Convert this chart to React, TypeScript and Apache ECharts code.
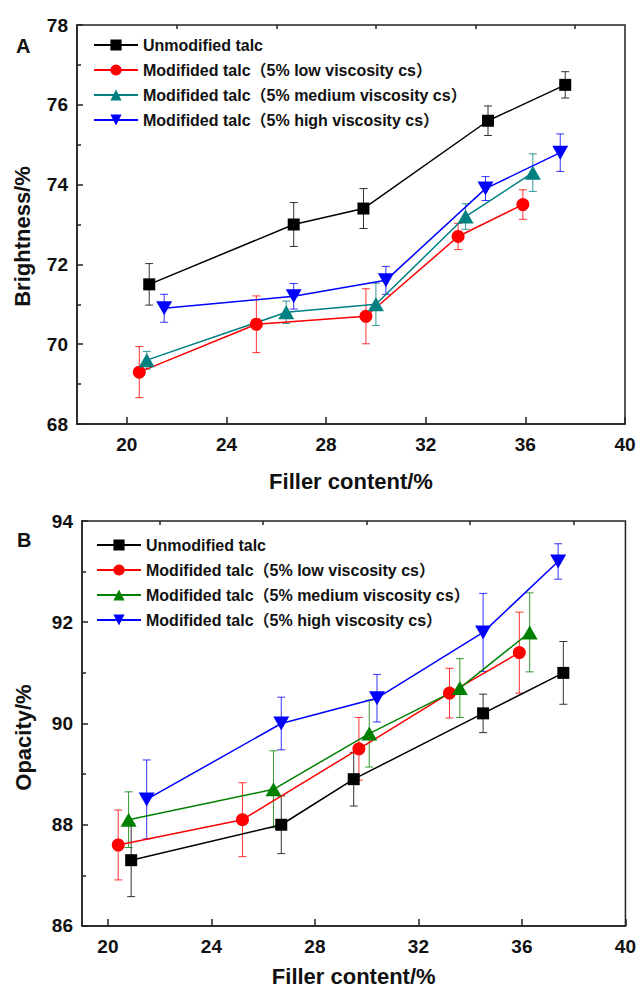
import React, { useEffect, useRef } from "react";
import * as echarts from "echarts";

// ---------- Data ----------
const seriesLabels = [
  "Unmodified talc",
  "Modifided talc（5% low viscosity cs）",
  "Modifided talc（5% medium viscosity cs）",
  "Modifided talc（5% high viscosity cs）",
];

// Panel A: Brightness/%
const a_unmod_x = [20.9, 26.7, 29.5, 34.5, 37.6];
const a_unmod_y = [71.5, 73.0, 73.4, 75.6, 76.5];
const a_unmod_err = [0.52, 0.55, 0.5, 0.37, 0.33];

const a_low_x = [20.5, 25.2, 29.6, 33.3, 35.9];
const a_low_y = [69.3, 70.5, 70.7, 72.7, 73.5];
const a_low_err = [0.64, 0.71, 0.69, 0.33, 0.37];

const a_med_x = [20.8, 26.4, 30.0, 33.6, 36.3];
const a_med_y = [69.6, 70.8, 71.0, 73.2, 74.3];
const a_med_err = [0.22, 0.28, 0.53, 0.32, 0.47];

const a_high_x = [21.5, 26.7, 30.4, 34.4, 37.4];
const a_high_y = [70.9, 71.2, 71.6, 73.9, 74.8];
const a_high_err = [0.35, 0.32, 0.35, 0.3, 0.47];

// Panel B: Opacity/%
const b_unmod_x = [20.9, 26.7, 29.5, 34.5, 37.6];
const b_unmod_y = [87.3, 88.0, 88.9, 90.2, 91.0];
const b_unmod_err = [0.72, 0.57, 0.53, 0.38, 0.62];

const b_low_x = [20.4, 25.2, 29.7, 33.2, 35.9];
const b_low_y = [87.6, 88.1, 89.5, 90.6, 91.4];
const b_low_err = [0.69, 0.73, 0.62, 0.49, 0.8];

const b_med_x = [20.8, 26.4, 30.1, 33.6, 36.3];
const b_med_y = [88.1, 88.7, 89.8, 90.7, 91.8];
const b_med_err = [0.55, 0.76, 0.66, 0.58, 0.78];

const b_high_x = [21.5, 26.7, 30.4, 34.5, 37.4];
const b_high_y = [88.5, 90.0, 90.5, 91.8, 93.2];
const b_high_err = [0.78, 0.52, 0.47, 0.77, 0.35];

const xMajorTicks = [20, 24, 28, 32, 36, 40];
const xMinorTicks = [22, 26, 30, 34, 38];

// ---------- Styles ----------
const colorsA = ["#000000", "#ff0000", "#008080", "#0000ff"];
const colorsB = ["#000000", "#ff0000", "#008000", "#0000ff"];
const symbols = ["rect", "circle", "triangle", "triangle"];
const symbolSizes: any[] = [12, 13, [16, 14], [16, 14]];
const symbolRotates = [0, 0, 0, 180];
const FONT = "'Liberation Sans', Arial, 'Noto Sans CJK SC', sans-serif";

export default function App() {
  const ref = useRef<HTMLDivElement>(null);

  useEffect(() => {
    if (!ref.current) return;
    const chart = echarts.init(ref.current, null, { renderer: "svg" });

    const panels = [
      {
        prefix: "A",
        colors: colorsA,
        xs: [a_unmod_x, a_low_x, a_med_x, a_high_x],
        ys: [a_unmod_y, a_low_y, a_med_y, a_high_y],
        errs: [a_unmod_err, a_low_err, a_med_err, a_high_err],
      },
      {
        prefix: "B",
        colors: colorsB,
        xs: [b_unmod_x, b_low_x, b_med_x, b_high_x],
        ys: [b_unmod_y, b_low_y, b_med_y, b_high_y],
        errs: [b_unmod_err, b_low_err, b_med_err, b_high_err],
      },
    ];

    const axisLine = { show: true, lineStyle: { color: "#222", width: 1.5 } };
    const labelStyle = {
      fontFamily: FONT,
      fontWeight: "bold" as const,
      fontSize: 19,
      color: "#111",
    };
    const nameStyle = {
      fontFamily: FONT,
      fontWeight: "bold" as const,
      fontSize: 22,
      color: "#111",
    };

    const makeX = (gridIndex: number, min: number, gap: number) => [
      {
        type: "value",
        gridIndex,
        min,
        max: 40,
        name: "Filler content/%",
        nameLocation: "middle",
        nameGap: gap,
        nameTextStyle: nameStyle,
        axisLine,
        axisTick: {
          show: true,
          inside: true,
          length: 7,
          customValues: xMajorTicks,
          lineStyle: { color: "#222", width: 1.5 },
        },
        axisLabel: { ...labelStyle, margin: 11, customValues: xMajorTicks },
        splitLine: { show: false },
      },
      {
        type: "value",
        gridIndex,
        min,
        max: 40,
        axisLine: { show: false },
        axisTick: {
          show: true,
          inside: true,
          length: 4,
          customValues: xMinorTicks,
          lineStyle: { color: "#222", width: 1.5 },
        },
        axisLabel: { show: false },
        splitLine: { show: false },
      },
    ];

    const makeY = (
      gridIndex: number,
      min: number,
      max: number,
      name: string,
      gap: number,
      shift: number
    ) => ({
      type: "value",
      gridIndex,
      min,
      max,
      interval: 2,
      name,
      nameLocation: "middle",
      nameRotate: 90,
      nameGap: gap,
      nameTextStyle: { ...nameStyle, padding: [0, shift * 2, 0, 0] },
      axisLine,
      axisTick: {
        show: true,
        inside: true,
        length: 6,
        lineStyle: { color: "#222", width: 1.5 },
      },
      minorTick: {
        show: true,
        splitNumber: 2,
        length: 4,
        lineStyle: { color: "#222", width: 1.5 },
      },
      axisLabel: { ...labelStyle, margin: 9 },
      splitLine: { show: false },
    });

    const series: any[] = [];
    panels.forEach((p, pi) => {
      const xAxisIndex = pi * 2;
      const yAxisIndex = pi;
      for (let k = 0; k < 4; k++) {
        const color = p.colors[k];
        const data = p.xs[k].map((x, i) => [x, p.ys[k][i], p.errs[k][i]]);
        series.push({
          type: "custom",
          name: p.prefix + "err" + k,
          xAxisIndex,
          yAxisIndex,
          z: 1,
          silent: true,
          data,
          renderItem: (params: any, api: any) => {
            const x = api.value(0);
            const y = api.value(1);
            const e = api.value(2);
            const top = api.coord([x, y + e]);
            const bot = api.coord([x, y - e]);
            const hw = 4;
            const st = { stroke: color, lineWidth: 1, opacity: 0.8 };
            return {
              type: "group",
              children: [
                { type: "line", shape: { x1: top[0], y1: top[1], x2: bot[0], y2: bot[1] }, style: st },
                { type: "line", shape: { x1: top[0] - hw, y1: top[1], x2: top[0] + hw, y2: top[1] }, style: st },
                { type: "line", shape: { x1: bot[0] - hw, y1: bot[1], x2: bot[0] + hw, y2: bot[1] }, style: st },
              ],
            };
          },
        });
        series.push({
          type: "line",
          name: p.prefix + ": " + seriesLabels[k],
          xAxisIndex,
          yAxisIndex,
          z: 3,
          data: data.map((d) => [d[0], d[1]]),
          symbol: symbols[k],
          symbolSize: symbolSizes[k],
          symbolRotate: symbolRotates[k],
          showAllSymbol: true,
          itemStyle: { color },
          lineStyle: { color, width: 1.5 },
        });
      }
    });

    const makeLegend = (prefix: string, left: number, top: number) => ({
      orient: "vertical",
      left,
      top,
      padding: 0,
      itemWidth: 44,
      itemHeight: 14,
      itemGap: 9,
      data: seriesLabels.map((l) => prefix + ": " + l),
      formatter: (name: string) => name.slice(3),
      selectedMode: false,
      textStyle: {
        fontFamily: FONT,
        fontWeight: "bold",
        fontSize: 16,
        lineHeight: 16,
        color: "#111",
      },
    });

    chart.setOption({
      animation: false,
      backgroundColor: "#ffffff",
      grid: [
        { left: 77, top: 25, width: 548, height: 399, show: true, borderColor: "#222", borderWidth: 1.5 },
        { left: 82, top: 521, width: 544, height: 406, show: true, borderColor: "#222", borderWidth: 1.5 },
      ],
      xAxis: [...makeX(0, 18, 46), ...makeX(1, 19, 39)],
      yAxis: [
        makeY(0, 68, 78, "Brightness/%", 44, 12),
        makeY(1, 86, 94, "Opacity/%", 48, 14),
      ],
      legend: [makeLegend("A", 93, 37), makeLegend("B", 96, 537)],
      graphic: [
        {
          type: "text",
          left: 16,
          top: 36,
          style: { text: "A", font: "bold 20px " + FONT, fill: "#111" },
        },
        {
          type: "text",
          left: 17,
          top: 530,
          style: { text: "B", font: "bold 20px " + FONT, fill: "#111" },
        },
      ],
      series,
    });

    return () => chart.dispose();
  }, []);

  return (
    <div
      ref={ref}
      style={{ position: "absolute", left: 0, top: 0, width: 639, height: 988, background: "#fff" }}
    />
  );
}
